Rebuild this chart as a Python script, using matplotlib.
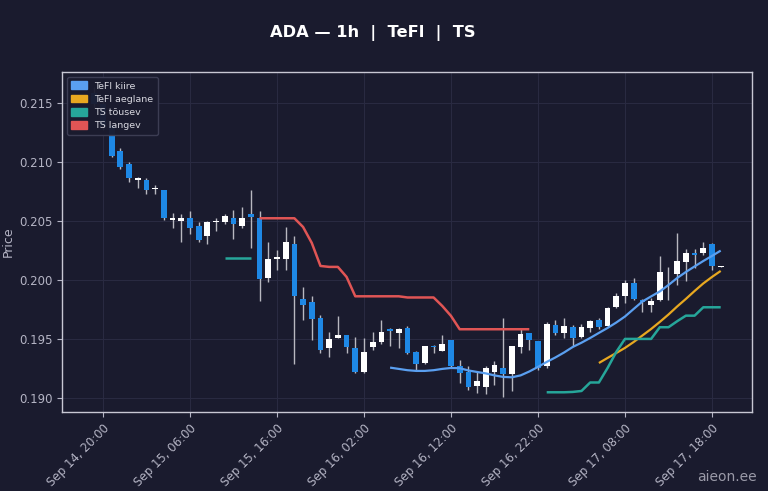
import numpy as np
import pandas as pd
import matplotlib
matplotlib.use("Agg")
import matplotlib.pyplot as plt
import matplotlib.dates as mdates
from matplotlib.patches import Patch

# hourly candles, Sep 14 19:00 .. Sep 17 19:00
start = "2025-09-14 19:00"
opens = [0.2158, 0.2149, 0.2130, 0.2109, 0.2098, 0.2085, 0.2085, 0.2077, 0.2076, 0.2051,
         0.2050, 0.2052, 0.2046, 0.2037, 0.2049, 0.2049, 0.2052, 0.2046, 0.2056, 0.2052,
         0.2002, 0.2018, 0.2018, 0.2030, 0.1984, 0.1981, 0.1968, 0.1942, 0.1951, 0.1953,
         0.1942, 0.1922, 0.1943, 0.1947, 0.1958, 0.1955, 0.1959, 0.1939, 0.1930, 0.1944,
         0.1940, 0.1949, 0.1927, 0.1922, 0.1910, 0.1909, 0.1922, 0.1925, 0.1920, 0.1943,
         0.1955, 0.1948, 0.1927, 0.1962, 0.1955, 0.1960, 0.1952, 0.1959, 0.1966, 0.1961,
         0.1977, 0.1986, 0.1997, 0.1983, 0.1979, 0.1983, 0.20052, 0.2005, 0.2015, 0.2023,
         0.2023, 0.2030, 0.2011]
highs = [0.2163, 0.2152, 0.2132, 0.2112, 0.2100, 0.2087, 0.2086, 0.2080, 0.2076, 0.2057,
         0.2056, 0.2058, 0.2049, 0.2050, 0.2052, 0.2056, 0.2059, 0.2062, 0.2076, 0.2058,
         0.2032, 0.2025, 0.2045, 0.2037, 0.1994, 0.1986, 0.1970, 0.1956, 0.1969, 0.1953,
         0.1952, 0.1951, 0.1956, 0.1966, 0.1959, 0.1959, 0.1961, 0.1940, 0.1944, 0.1945,
         0.1953, 0.1949, 0.1932, 0.1927, 0.1922, 0.1927, 0.1931, 0.1968, 0.1944, 0.1958,
         0.1955, 0.1948, 0.1964, 0.1966, 0.1968, 0.1962, 0.1963, 0.1966, 0.1968, 0.1977,
         0.1989, 0.2000, 0.2002, 0.1984, 0.1985, 0.2020, 0.2011, 0.2040, 0.2026, 0.2026,
         0.2032, 0.2031, 0.2012]
lows = [0.2146, 0.2127, 0.2104, 0.2094, 0.2083, 0.2078, 0.2073, 0.2073, 0.2051, 0.2044,
        0.2032, 0.2039, 0.2032, 0.2030, 0.2041, 0.2047, 0.2035, 0.2044, 0.2027, 0.1982,
        0.1998, 0.2008, 0.2008, 0.1929, 0.1966, 0.1949, 0.1938, 0.1935, 0.1951, 0.1938,
        0.1921, 0.1921, 0.1941, 0.1946, 0.1944, 0.1942, 0.1937, 0.1924, 0.1929, 0.1938,
        0.1940, 0.1925, 0.1913, 0.1907, 0.1904, 0.1903, 0.1911, 0.1901, 0.1906, 0.1938,
        0.1941, 0.1924, 0.1925, 0.1953, 0.1951, 0.1944, 0.1951, 0.1956, 0.1958, 0.1960,
        0.1976, 0.1980, 0.1983, 0.1973, 0.1973, 0.1982, 0.1983, 0.1996, 0.1999, 0.2010,
        0.2021, 0.2008, 0.2011]
closes = [0.2149, 0.2130, 0.2105, 0.2096, 0.2086, 0.2086, 0.2076, 0.2078, 0.2052, 0.2052,
          0.2052, 0.2044, 0.2034, 0.2049, 0.2050, 0.2054, 0.2047, 0.2052, 0.2053, 0.2001,
          0.2018, 0.2019, 0.2032, 0.1986, 0.1979, 0.1967, 0.1941, 0.1950, 0.1953, 0.1943,
          0.1922, 0.1939, 0.1947, 0.1956, 0.1957, 0.1958, 0.1938, 0.1929, 0.1944, 0.1943,
          0.1946, 0.1927, 0.1921, 0.1909, 0.1914, 0.1925, 0.1928, 0.1920, 0.1944, 0.1954,
          0.1949, 0.1925, 0.1963, 0.1955, 0.1961, 0.1951, 0.1960, 0.1965, 0.1960, 0.1976,
          0.1986, 0.1997, 0.1984, 0.1981, 0.1982, 0.2007, 0.20048, 0.2016, 0.2023, 0.2021,
          0.2027, 0.2012, 0.2012]

# indicator lines: (first hour index, values)
tefl_fast_start = 34
tefl_fast = [0.19257, 0.19246, 0.19235, 0.19229, 0.19229, 0.19235, 0.19246, 0.19254, 0.19252,
             0.19233, 0.19220, 0.19208, 0.19191, 0.19178, 0.19175, 0.19191, 0.19224, 0.19263,
             0.19305, 0.19343, 0.19385, 0.19432, 0.19468, 0.19508, 0.19551, 0.19593, 0.19639,
             0.19690, 0.19754, 0.19817, 0.19860, 0.19902, 0.19957, 0.20016, 0.20067, 0.20114,
             0.20160, 0.20203, 0.20248]
tefl_slow_start = 58
tefl_slow = [0.19296, 0.19339, 0.19381, 0.19424, 0.19474, 0.19529, 0.19584, 0.19644, 0.19707,
             0.19775, 0.19839, 0.19906, 0.19970, 0.20025, 0.20076]
ts_up_a_start = 15
ts_up_a = [0.20188, 0.20188, 0.20188, 0.20188]
ts_up_b_start = 52
ts_up_b = [0.19048, 0.19048, 0.19048, 0.19051, 0.19059, 0.19131, 0.19131, 0.19254, 0.19390,
           0.19500, 0.19500, 0.19500, 0.19500, 0.19599, 0.19599, 0.19650, 0.19697, 0.19697,
           0.19768, 0.19768, 0.19768]
ts_down_start = 19
ts_down = [0.20522, 0.20522, 0.20522, 0.20522, 0.20522, 0.20448, 0.20313, 0.20118, 0.20110,
           0.20110, 0.20025, 0.19861, 0.19861, 0.19861, 0.19861, 0.19861, 0.19861, 0.19851,
           0.19851, 0.19851, 0.19851, 0.19779, 0.19695, 0.19582, 0.19582, 0.19582, 0.19582,
           0.19582, 0.19582, 0.19582, 0.19582, 0.19582]

tick_start = "2025-09-14 20:00"
n_ticks = 8

BG = "#1a1b2e"
UP = "#ffffff"
DOWN = "#1e88e5"
WICK = "#b8b8c0"
C_FAST = "#5a9ff0"
C_SLOW = "#e8a820"
C_UP = "#26a69a"
C_DOWN = "#e05555"
TXT = "#b4b4c4"

times = pd.date_range(start, periods=len(opens), freq="h")
x = mdates.date2num(times)
o = np.array(opens)
c = np.array(closes)

fig = plt.figure(figsize=(7.68, 4.91), dpi=100, facecolor=BG)
ax = fig.add_axes([0.0807, 0.1609, 0.8985, 0.6925])
ax.set_facecolor(BG)

up = c >= o
colors = np.where(up, UP, DOWN)
ax.vlines(x, lows, highs, color=WICK, linewidth=1.0, zorder=2)
height = np.maximum(np.abs(c - o), 0.00005)
ax.bar(x, height, bottom=np.minimum(o, c), width=0.66 / 24, color=colors,
       edgecolor=colors, linewidth=0, zorder=3)


def seg(start_idx, vals, color, lw=1.8):
    xs = x[start_idx:start_idx + len(vals)]
    ax.plot(xs, vals, color=color, linewidth=lw, zorder=4, solid_capstyle="butt")


seg(tefl_fast_start, tefl_fast, C_FAST, 1.6)
seg(tefl_slow_start, tefl_slow, C_SLOW, 1.6)
seg(ts_up_a_start, ts_up_a, C_UP)
seg(ts_up_b_start, ts_up_b, C_UP)
seg(ts_down_start, ts_down, C_DOWN)

t0 = mdates.date2num(pd.Timestamp(tick_start))
ax.set_xlim(t0 - 4.71 / 24, t0 + 74.6 / 24)
ax.set_ylim(0.18881, 0.21761)

ticks = pd.date_range(tick_start, periods=n_ticks, freq="10h")
ax.set_xticks(mdates.date2num(ticks))
ax.set_xticklabels([t.strftime("%b %d, %H:%M") for t in ticks], rotation=45,
                   ha="right", rotation_mode="anchor")
ax.set_yticks([0.190, 0.195, 0.200, 0.205, 0.210, 0.215])
ax.set_yticklabels(["0.190", "0.195", "0.200", "0.205", "0.210", "0.215"])
ax.tick_params(colors=TXT, labelsize=8.5, length=3.5, width=0.8)
for lab in ax.get_xticklabels():
    lab.set_color(TXT)
for sp in ax.spines.values():
    sp.set_color("#c8c8d4")
    sp.set_linewidth(1.0)
ax.grid(True, color="#2a2b42", linewidth=0.7, zorder=0)
ax.set_axisbelow(True)
ax.set_ylabel("Price", color=TXT, fontsize=9)
ax.yaxis.set_label_coords(-0.069, 0.5)

handles = [Patch(color=C_FAST, label="TeFl kiire"),
           Patch(color=C_SLOW, label="TeFl aeglane"),
           Patch(color=C_UP, label="TS tõusev"),
           Patch(color=C_DOWN, label="TS langev")]
leg = ax.legend(handles=handles, loc="upper left", fontsize=6.8, frameon=True,
                facecolor=BG, edgecolor="#3e3f56", framealpha=0.95,
                handlelength=1.6, handleheight=0.9, borderpad=0.5, labelspacing=0.42)
for t in leg.get_texts():
    t.set_color("#d8d8e0")

fig.text(373 / 768, 1 - 33 / 491, "ADA — 1h  |  TeFl  |  TS", ha="center", va="center",
         color="white", fontsize=11.7, fontweight="bold")
fig.text(0.986, 0.028, "aieon.ee", ha="right", va="center", color="#9a9aa8", fontsize=10)

fig.savefig("out.png", dpi=100, facecolor=BG)
